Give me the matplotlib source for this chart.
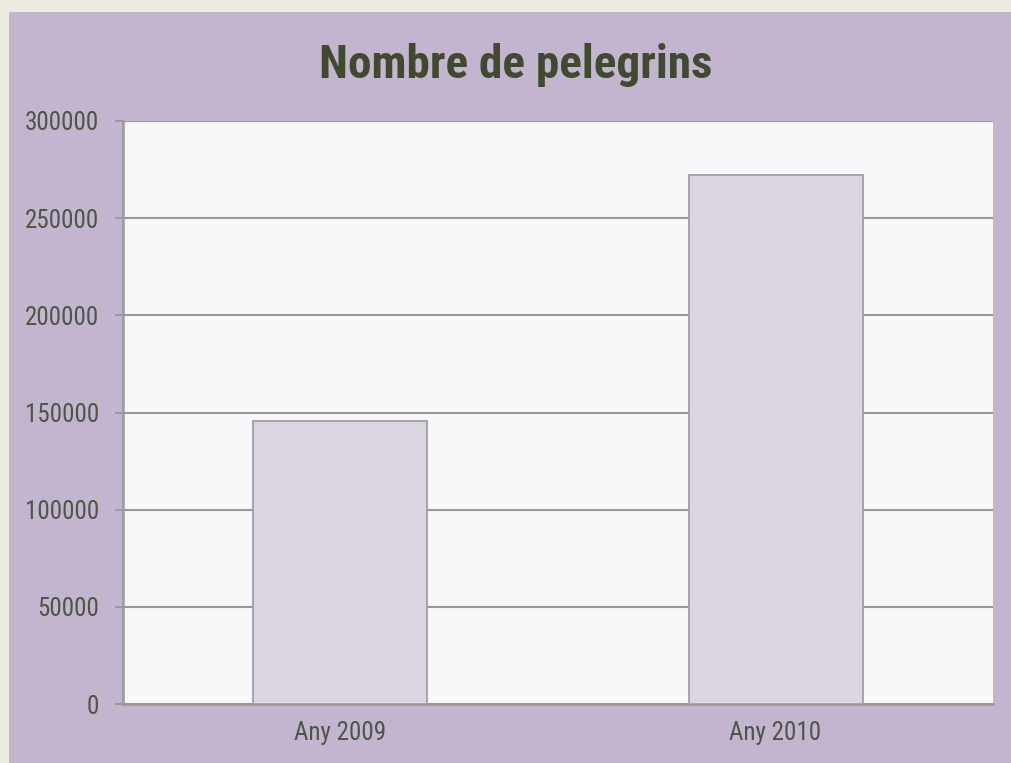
import matplotlib
matplotlib.use("Agg")
import matplotlib.pyplot as plt
from matplotlib.patches import Rectangle

categories = ["Any 2009", "Any 2010"]
values = [145877, 272135]
yticks = [0, 50000, 100000, 150000, 200000, 250000, 300000]
title = "Nombre de pelegrins"

plt.rcParams['font.family'] = ['Roboto Condensed', 'DejaVu Sans']

W, H = 1012, 763
fig = plt.figure(figsize=(W / 100, H / 100), dpi=100)
fig.patch.set_facecolor("#eeece0")
fig.patches.append(Rectangle((9 / W, 0), 1 - 9 / W, 1 - 12 / H, transform=fig.transFigure,
                             facecolor="#c3b5d0", edgecolor="none", zorder=-5))

ax = fig.add_axes([123 / W, 1 - 704 / H, (993 - 123) / W, (704 - 121) / H])
ax.set_facecolor("#f8f8fb")
ax.bar(range(len(categories)), values, width=0.4, color="#dcd6e3", edgecolor="#a29eaa",
       linewidth=1.3, zorder=3)
ax.set_xlim(-0.5, 1.5)
ax.set_ylim(0, 300000)
ax.set_yticks(yticks)
ax.set_yticklabels([str(v) for v in yticks])
ax.set_xticks(range(len(categories)))
ax.set_xticklabels(categories)
ax.yaxis.grid(True, color="#999a96", linewidth=1.5, zorder=1)
ax.set_axisbelow(True)
for s in ["top", "right"]:
    ax.spines[s].set_visible(False)
for s in ["left", "bottom"]:
    ax.spines[s].set_color("#999a96")
    ax.spines[s].set_linewidth(1.8)
ax.tick_params(axis="y", length=6, width=1.5, color="#999a96", labelsize=18,
               labelcolor="#4d5545", pad=11)
ax.tick_params(axis="x", length=0, labelsize=18, labelcolor="#4d5545", pad=12)

fig.text(516 / W, 1 - 78 / H, title, ha="center", va="baseline",
         fontsize=34, fontweight="bold", color="#3f4a2f")

fig.savefig("out.png", dpi=100, facecolor=fig.get_facecolor())
